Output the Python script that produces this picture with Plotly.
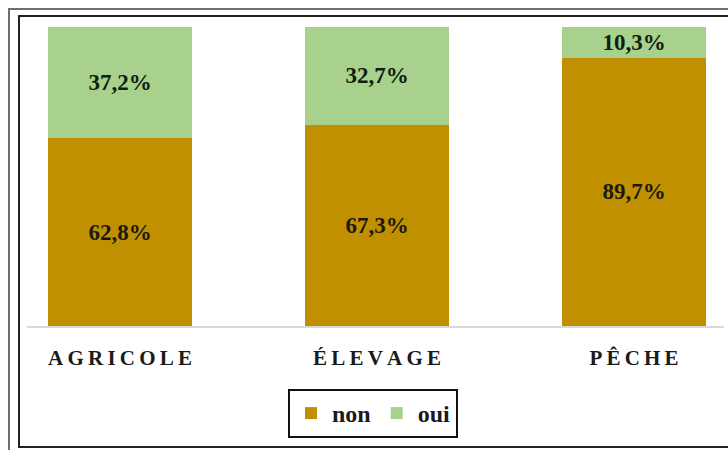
import plotly.graph_objects as go

# Share of respondents per activity (percent)
categories = ["AGRICOLE", "ÉLEVAGE", "PÊCHE"]
non_values = [62.8, 67.3, 89.7]
oui_values = [37.2, 32.7, 10.3]

SERIF = "Liberation Serif"
NON_COLOR = "#C09000"
OUI_COLOR = "#A9D18E"


def pct(v):
    return f"{v:.1f}".replace(".", ",") + "%"


def spaced(word):
    return "\u2009".join(word)


fig = go.Figure()
fig.add_trace(go.Bar(
    name="non", x=categories, y=non_values,
    marker=dict(color=NON_COLOR, line=dict(width=0)),
    text=[pct(v) for v in non_values],
    textposition="inside", insidetextanchor="middle", textangle=0,
    constraintext="none",
    textfont=dict(family=SERIF, size=23, color="#1c1a10", weight="bold"),
))
fig.add_trace(go.Bar(
    name="oui", x=categories, y=oui_values,
    marker=dict(color=OUI_COLOR, line=dict(width=0)),
    text=[pct(v) for v in oui_values],
    textposition="inside", insidetextanchor="middle", textangle=0,
    constraintext="none",
    textfont=dict(family=SERIF, size=23, color="#10200f", weight="bold"),
))

W, H = 728, 450
L, R, T, B = 27, 4, 27, 124
pw, ph = W - L - R, H - T - B


def px_x(x):
    return (x - L) / pw


def px_y(y):
    return (H - B - y) / ph


shapes = [
    dict(type="rect", xref="paper", yref="paper",
         x0=px_x(9), x1=px_x(740), y0=px_y(9), y1=px_y(470),
         line=dict(color="#6e6e6e", width=2), fillcolor="rgba(0,0,0,0)", layer="below"),
    dict(type="rect", xref="paper", yref="paper",
         x0=px_x(19), x1=px_x(735), y0=px_y(16), y1=px_y(447),
         line=dict(color="#222222", width=2), fillcolor="rgba(0,0,0,0)", layer="below"),
]

fig.update_layout(
    width=W, height=H,
    margin=dict(l=L, r=R, t=T, b=B),
    barmode="stack",
    bargap=0.44,
    paper_bgcolor="white",
    plot_bgcolor="white",
    shapes=shapes,
    xaxis=dict(
        range=[(L - 120) / 257, (W - R - 120) / 257],
        tickvals=categories,
        ticktext=[spaced(c) for c in categories],
        tickfont=dict(family=SERIF, size=21, color="#1a1a1a", weight="bold"),
        showline=True, linecolor="#d9d9d9", linewidth=2,
        showgrid=False, ticks="", ticklabelstandoff=12,
    ),
    yaxis=dict(range=[0, 100], visible=False, showgrid=False),
    legend=dict(
        orientation="h", x=px_x(373), xanchor="center",
        y=px_y(389), yanchor="top",
        font=dict(family=SERIF, size=24, color="#1a1a1a", weight="bold"),
        bordercolor="#111111", borderwidth=2,
        itemwidth=32, traceorder="normal",
    ),
    showlegend=True,
)

fig.write_html("out.html")
